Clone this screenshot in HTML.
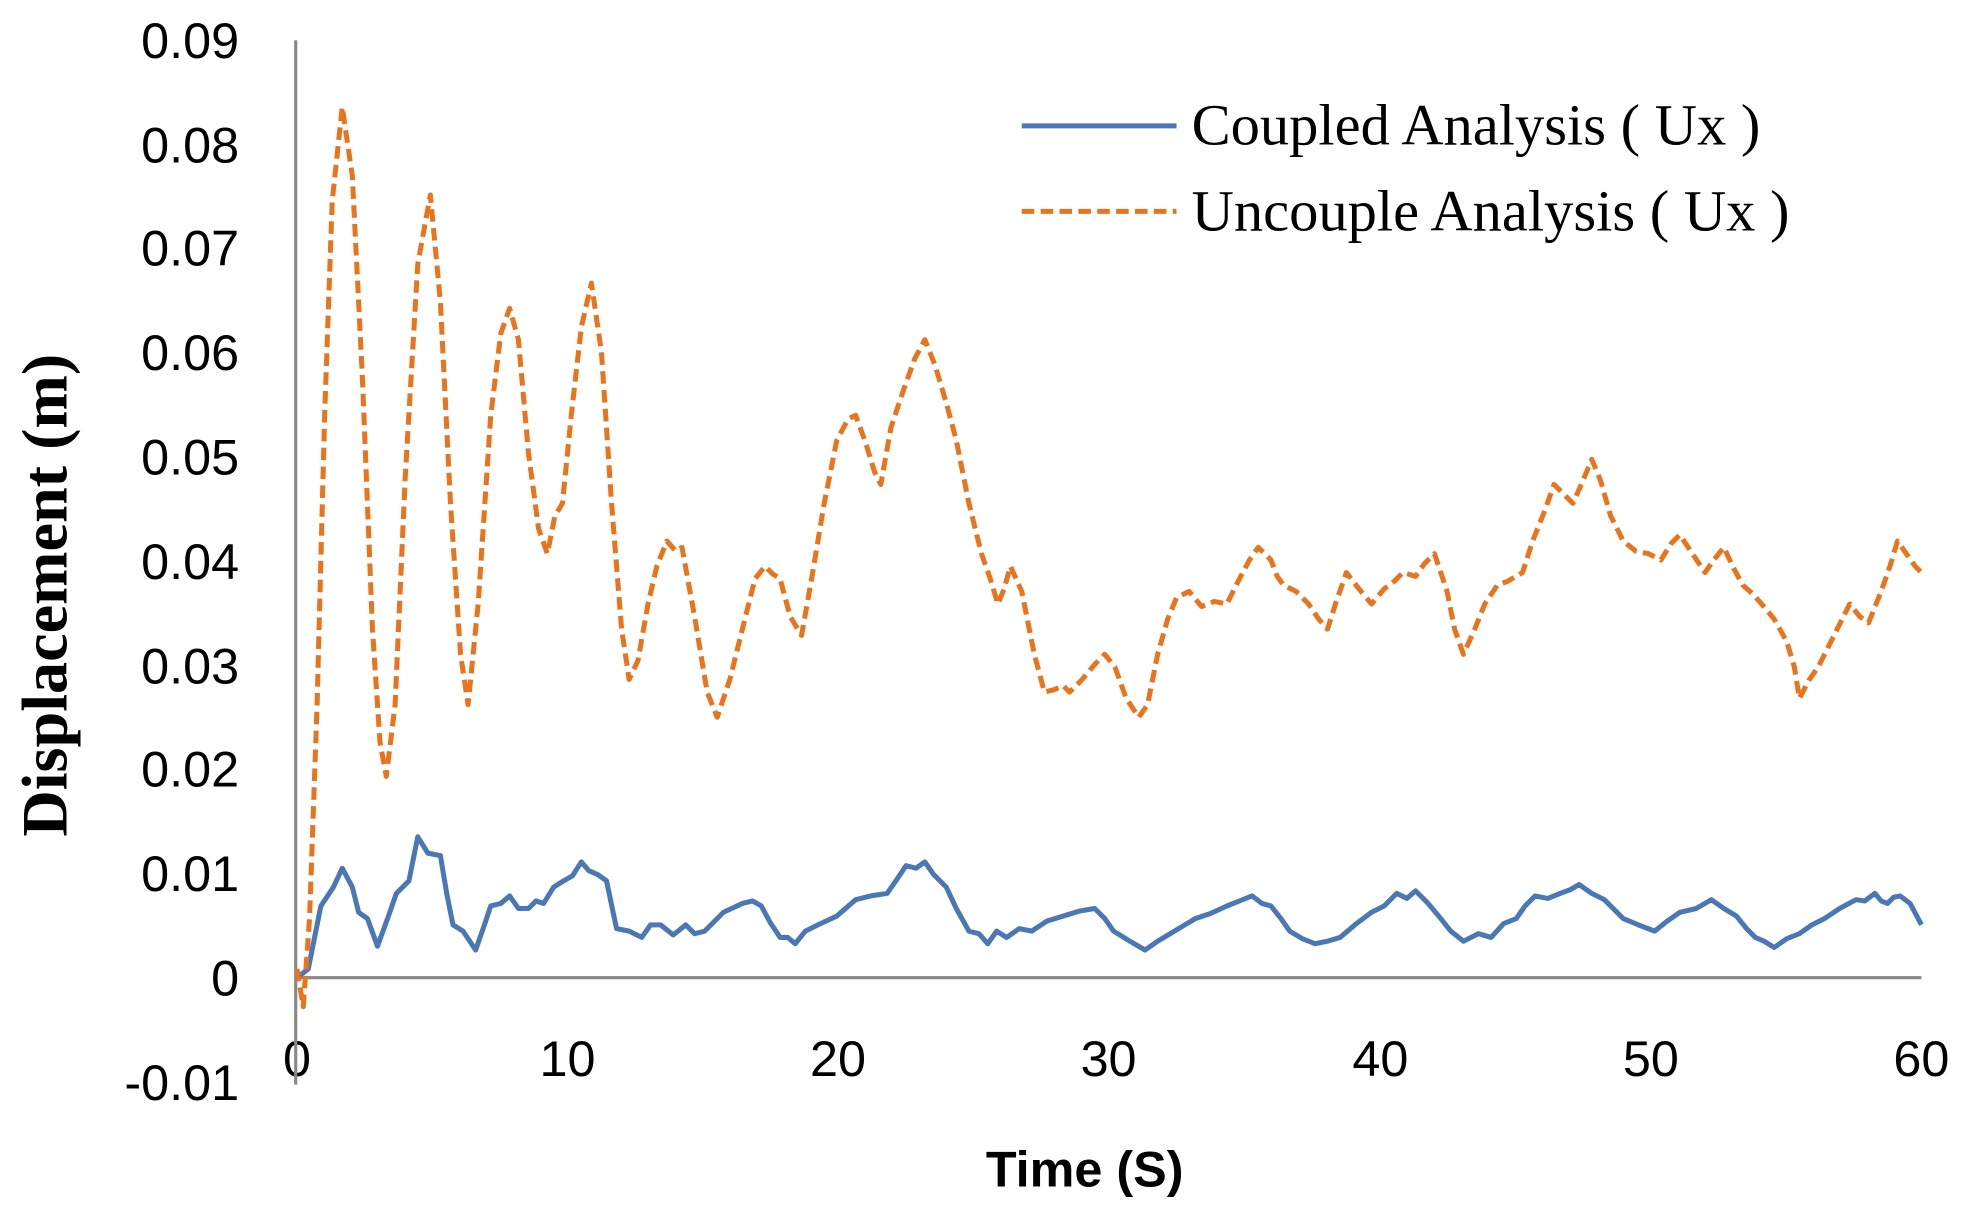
<!DOCTYPE html>
<html><head><meta charset="utf-8"><style>html,body{margin:0;padding:0;background:#fff}svg{display:block}</style></head>
<body>
<svg width="1963" height="1207" viewBox="0 0 1963 1207" xmlns="http://www.w3.org/2000/svg">
<rect width="1963" height="1207" fill="#fff"/>
<g transform="scale(1.2583)">
<g font-family="Liberation Sans, sans-serif" font-size="40" fill="#000" text-anchor="end">
<text x="190" y="46">0.09</text>
<text x="190" y="129">0.08</text>
<text x="190" y="211">0.07</text>
<text x="190" y="294">0.06</text>
<text x="190" y="377">0.05</text>
<text x="190" y="460">0.04</text>
<text x="190" y="543">0.03</text>
<text x="190" y="625">0.02</text>
<text x="190" y="708">0.01</text>
<text x="190" y="791">0</text>
<text x="190" y="874">-0.01</text>
</g>
<g font-family="Liberation Sans, sans-serif" font-size="40" fill="#000" text-anchor="middle">
<text x="236" y="855">0</text>
<text x="451" y="855">10</text>
<text x="666" y="855">20</text>
<text x="881" y="855">30</text>
<text x="1097" y="855">40</text>
<text x="1312" y="855">50</text>
<text x="1527" y="855">60</text>
</g>
<line x1="235" y1="32" x2="235" y2="862" stroke="#888" stroke-width="2.5"/>
<line x1="235" y1="777" x2="1527" y2="777" stroke="#888" stroke-width="2.5"/>
<text x="862" y="943" font-family="Liberation Sans, sans-serif" font-weight="bold" font-size="40" text-anchor="middle">Time (S)</text>
<text transform="translate(53,473) rotate(-90)" font-family="Liberation Serif, serif" font-weight="bold" font-size="51" text-anchor="middle">Displacement (m)</text>
<line x1="812" y1="100" x2="935" y2="100" stroke="#4a78b5" stroke-width="4"/>
<line x1="812" y1="168" x2="935" y2="168" stroke="#e8741e" stroke-width="4" stroke-dasharray="10 5"/>
<g font-family="Liberation Serif, serif" font-size="46.5" fill="#000">
<text x="947" y="115">Coupled Analysis ( Ux )</text>
<text x="947" y="183">Uncouple Analysis ( Ux )</text>
</g>
<polyline fill="none" stroke="#4a78b5" stroke-width="4" stroke-linejoin="round" points="236,777 245,770 255,720 265,705 272,690 280,705 285,725 292,730 300,752 308,730 315,710 325,700 332,665 340,678 350,680 355,710 360,735 368,740 378,755 385,735 390,720 398,718 405,712 412,722 420,722 426,716 432,718 440,705 448,700 455,696 462,685 468,692 475,695 482,700 490,738 500,740 510,745 517,735 525,735 535,743 545,735 552,742 560,740 575,725 590,718 598,716 605,720 612,733 620,745 626,745 632,750 640,740 650,735 665,728 680,715 692,712 705,710 712,700 720,688 728,690 735,685 742,695 752,705 760,722 770,740 778,742 785,750 792,740 800,745 810,738 820,740 832,732 845,728 858,724 870,722 878,730 885,740 898,748 910,755 920,748 930,742 940,736 950,730 962,726 975,720 985,716 995,712 1003,718 1010,720 1018,730 1025,740 1035,746 1045,750 1055,748 1065,745 1078,734 1090,725 1100,720 1110,710 1118,714 1125,708 1135,718 1145,730 1153,740 1163,748 1175,742 1185,745 1195,734 1205,730 1212,720 1220,712 1230,714 1240,710 1248,707 1255,703 1265,710 1275,715 1282,722 1290,730 1302,735 1315,740 1325,732 1335,725 1348,722 1360,715 1370,722 1380,728 1388,738 1395,745 1402,748 1410,753 1420,746 1430,742 1440,735 1450,730 1462,722 1475,715 1482,716 1490,710 1495,716 1500,718 1505,713 1510,712 1518,718 1527,735"/>
<polyline fill="none" stroke="#e8741e" stroke-width="4" stroke-dasharray="10 5" stroke-linejoin="round" points="236,770 241,800 246,730 252,560 258,330 264,160 272,85 280,140 288,300 296,500 302,590 307,617 314,560 322,380 332,210 342,155 350,240 358,400 366,520 372,560 380,480 390,330 398,265 405,245 412,270 420,360 428,420 435,440 441,410 447,400 454,330 462,260 470,225 478,280 486,400 494,500 500,540 507,525 515,480 522,450 530,430 537,438 542,435 552,490 562,550 570,570 580,540 590,500 600,460 608,450 614,456 620,460 628,490 637,505 645,460 655,400 665,350 674,333 680,330 688,352 695,375 700,385 708,340 718,310 727,285 735,270 743,290 752,320 760,350 770,400 780,440 787,460 793,480 798,468 803,450 812,470 822,520 830,550 838,548 845,545 850,550 860,540 870,528 878,520 886,530 895,555 905,570 912,560 920,520 928,492 935,475 945,470 955,482 965,478 975,480 985,460 993,445 1000,435 1010,445 1015,458 1020,465 1030,470 1040,480 1048,492 1055,500 1062,478 1070,455 1080,468 1090,480 1100,468 1108,462 1115,455 1125,458 1132,448 1140,440 1150,470 1156,500 1163,520 1172,500 1180,480 1190,465 1198,462 1205,458 1210,455 1218,430 1228,405 1235,385 1242,392 1250,400 1258,382 1265,365 1272,382 1280,410 1290,430 1300,438 1310,440 1320,445 1328,432 1335,425 1345,440 1355,455 1362,445 1370,435 1378,452 1385,465 1393,472 1400,480 1410,492 1420,510 1426,530 1430,555 1438,540 1445,530 1450,520 1460,500 1470,480 1478,490 1485,495 1495,470 1502,450 1508,430 1515,440 1522,450 1527,455"/>
</g>
</svg>
</body></html>
